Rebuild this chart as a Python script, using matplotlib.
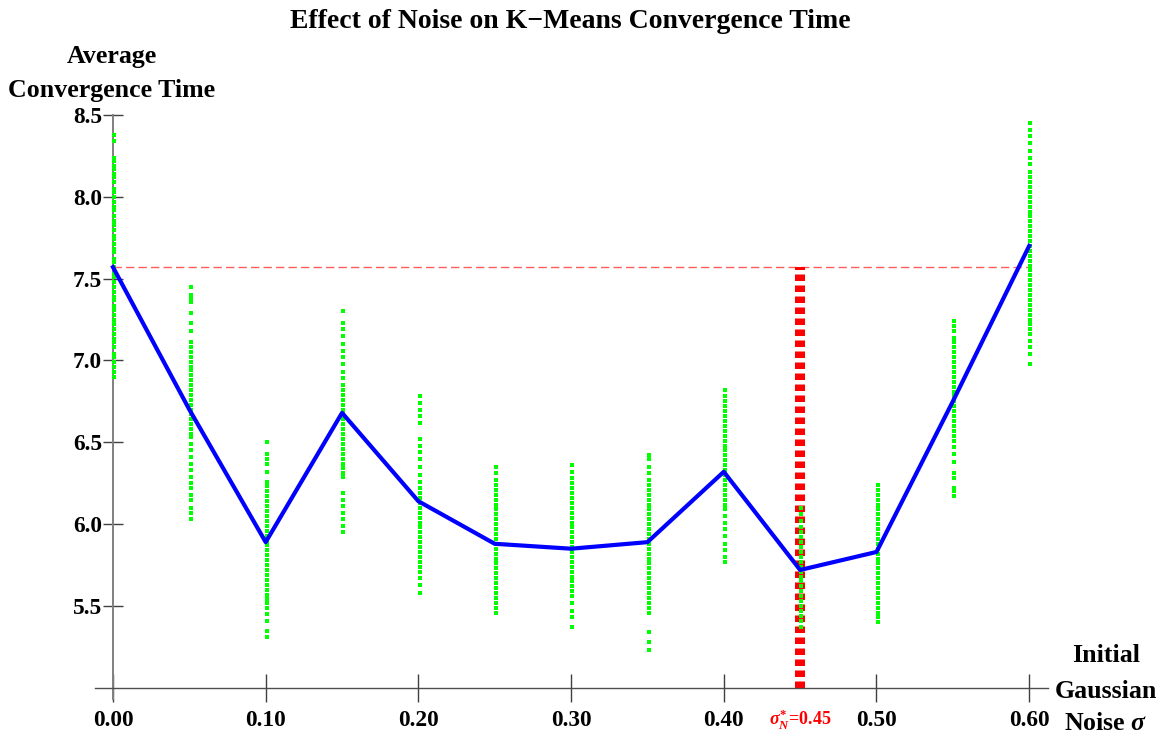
import matplotlib
matplotlib.use("Agg")
import matplotlib.pyplot as plt
import numpy as np

plt.rcParams["font.family"] = ["Liberation Serif", "DejaVu Serif"]
plt.rcParams["font.weight"] = "bold"
plt.rcParams["mathtext.fontset"] = "custom"
plt.rcParams["mathtext.rm"] = "Liberation Serif:bold"
plt.rcParams["mathtext.bf"] = "Liberation Serif:bold"
plt.rcParams["mathtext.it"] = "Liberation Serif:italic:bold"

# noise levels and mean convergence time (iterations) per level
noise = [0.00, 0.05, 0.10, 0.15, 0.20, 0.25, 0.30, 0.35, 0.40, 0.45, 0.50, 0.55, 0.60]
conv_time = [7.57, 6.70, 5.89, 6.68, 6.14, 5.88, 5.85, 5.89, 6.32, 5.72, 5.83, 6.75, 7.70]
best_sigma = 0.45

# per-run convergence times at each noise level
runs = {
    0.00: [8.38, 8.34, 8.24, 8.22, 8.19, 8.17, 8.14, 8.12, 8.09, 8.05, 8.03, 8.00, 7.97, 7.94,
           7.92, 7.88, 7.85, 7.83, 7.80, 7.76, 7.74, 7.71, 7.68, 7.66, 7.62, 7.60, 7.57, 7.53,
           7.51, 7.48, 7.45, 7.42, 7.39, 7.37, 7.33, 7.31, 7.28, 7.25, 7.22, 7.19, 7.16, 7.13,
           7.11, 7.08, 7.04, 7.02, 6.99, 6.96, 6.93, 6.90],
    0.05: [7.45, 7.40, 7.38, 7.36, 7.29, 7.23, 7.18, 7.11, 7.08, 7.05, 7.02, 6.99, 6.96, 6.94,
           6.91, 6.88, 6.85, 6.82, 6.79, 6.76, 6.73, 6.70, 6.67, 6.64, 6.61, 6.58, 6.55, 6.53,
           6.49, 6.45, 6.41, 6.37, 6.33, 6.29, 6.25, 6.22, 6.18, 6.15, 6.10, 6.07, 6.03],
    0.10: [6.50, 6.43, 6.40, 6.37, 6.32, 6.26, 6.23, 6.20, 6.17, 6.14, 6.11, 6.08, 6.05, 6.02,
           5.99, 5.96, 5.93, 5.90, 5.87, 5.84, 5.81, 5.78, 5.75, 5.72, 5.69, 5.66, 5.63, 5.60,
           5.57, 5.54, 5.52, 5.49, 5.45, 5.41, 5.35, 5.31],
    0.15: [7.30, 7.23, 7.19, 7.15, 7.10, 7.06, 7.02, 6.98, 6.93, 6.89, 6.85, 6.82, 6.79, 6.76,
           6.73, 6.70, 6.67, 6.64, 6.61, 6.58, 6.55, 6.52, 6.49, 6.46, 6.43, 6.40, 6.37, 6.34,
           6.31, 6.29, 6.19, 6.15, 6.11, 6.07, 6.03, 5.99, 5.95],
    0.20: [6.78, 6.74, 6.70, 6.66, 6.62, 6.52, 6.48, 6.44, 6.40, 6.35, 6.30, 6.26, 6.22, 6.19,
           6.16, 6.13, 6.10, 6.07, 6.04, 6.01, 5.98, 5.95, 5.92, 5.89, 5.86, 5.83, 5.80, 5.77,
           5.74, 5.71, 5.67, 5.63, 5.58],
    0.25: [6.35, 6.31, 6.27, 6.24, 6.21, 6.18, 6.15, 6.12, 6.09, 6.06, 6.03, 6.00, 5.97, 5.94,
           5.91, 5.88, 5.85, 5.82, 5.79, 5.76, 5.73, 5.70, 5.67, 5.64, 5.61, 5.58, 5.55, 5.52,
           5.49, 5.46],
    0.30: [6.36, 6.32, 6.28, 6.25, 6.22, 6.19, 6.16, 6.13, 6.10, 6.07, 6.04, 6.01, 5.98, 5.95,
           5.92, 5.89, 5.86, 5.83, 5.80, 5.77, 5.74, 5.71, 5.68, 5.65, 5.62, 5.59, 5.56, 5.52,
           5.47, 5.43, 5.37],
    0.35: [6.42, 6.40, 6.35, 6.31, 6.27, 6.24, 6.21, 6.18, 6.15, 6.12, 6.09, 6.06, 6.03, 6.00,
           5.97, 5.94, 5.91, 5.88, 5.85, 5.82, 5.79, 5.76, 5.73, 5.70, 5.67, 5.64, 5.61, 5.58,
           5.55, 5.52, 5.49, 5.46, 5.34, 5.28, 5.23],
    0.40: [6.82, 6.78, 6.75, 6.72, 6.69, 6.66, 6.63, 6.60, 6.57, 6.54, 6.51, 6.48, 6.45, 6.42,
           6.39, 6.36, 6.33, 6.30, 6.27, 6.24, 6.21, 6.18, 6.15, 6.12, 6.09, 6.05, 6.01, 5.97,
           5.93, 5.88, 5.84, 5.80, 5.77],
    0.45: [6.10, 6.06, 6.02, 5.98, 5.95, 5.92, 5.89, 5.86, 5.83, 5.80, 5.77, 5.74, 5.71, 5.68,
           5.65, 5.62, 5.59, 5.56, 5.53, 5.50, 5.47, 5.44, 5.41, 5.37],
    0.50: [6.24, 6.21, 6.18, 6.15, 6.12, 6.09, 6.06, 6.03, 6.00, 5.97, 5.94, 5.91, 5.88, 5.85,
           5.82, 5.79, 5.76, 5.73, 5.70, 5.67, 5.64, 5.61, 5.58, 5.55, 5.52, 5.49, 5.46, 5.43,
           5.40],
    0.55: [7.24, 7.21, 7.18, 7.14, 7.11, 7.08, 7.05, 7.02, 6.99, 6.96, 6.93, 6.90, 6.87, 6.84,
           6.81, 6.78, 6.75, 6.72, 6.69, 6.66, 6.63, 6.60, 6.57, 6.54, 6.51, 6.47, 6.43, 6.38,
           6.31, 6.28, 6.22, 6.20, 6.17],
    0.60: [8.45, 8.41, 8.37, 8.33, 8.28, 8.24, 8.20, 8.15, 8.12, 8.09, 8.06, 8.03, 8.00, 7.97,
           7.94, 7.91, 7.88, 7.85, 7.82, 7.79, 7.76, 7.73, 7.70, 7.67, 7.64, 7.61, 7.58, 7.55,
           7.52, 7.49, 7.46, 7.43, 7.40, 7.37, 7.34, 7.31, 7.28, 7.25, 7.22, 7.19, 7.16, 7.12,
           7.08, 7.04, 6.98],
}

xticks = [0.0, 0.1, 0.2, 0.3, 0.4, 0.5, 0.6]
xtick_labels = ["0.00", "0.10", "0.20", "0.30", "0.40", "0.50", "0.60"]
yticks = [5.5, 6.0, 6.5, 7.0, 7.5, 8.0, 8.5]

fig = plt.figure(figsize=(11.63, 7.35), dpi=100)
ax = fig.add_axes([0.0814, 0.0486, 0.8193, 0.795])
ax.set_xlim(-0.012, 0.612)
ax.set_ylim(4.93, 8.5)

# baseline (no noise) level and the best noise level
baseline = conv_time[0]
ax.plot([0, 0.60], [baseline, baseline], color="#ff5c5c", lw=1.0,
        dashes=(6, 3), zorder=2)
ax.plot([best_sigma, best_sigma], [5.0, baseline], color="#ff0000", lw=7.2,
        dashes=(0.65, 0.45), solid_capstyle="butt", dash_capstyle="butt", zorder=2)

for s, vals in runs.items():
    ax.scatter(np.full(len(vals), s + 0.0008), vals, s=5.5, marker="s",
               color="#00ff00", linewidths=0, zorder=3)

ax.plot(noise, conv_time, color="#0000ff", lw=3.0, zorder=4)

for side in ("top", "right"):
    ax.spines[side].set_visible(False)
ax.spines["left"].set_position(("data", 0.0))
ax.spines["bottom"].set_position(("data", 5.0))
ax.spines["left"].set_color("0.5")
ax.spines["bottom"].set_color("0.3")
ax.spines["left"].set_linewidth(1.4)
ax.spines["bottom"].set_linewidth(1.0)

ax.set_xticks(xticks)
ax.set_xticklabels(xtick_labels)
ax.set_yticks(yticks)
ax.tick_params(axis="x", direction="inout", length=20, width=1.0, color="0.25",
               labelsize=16.8, pad=6)
ax.tick_params(axis="y", direction="inout", length=13.7, width=1.0, color="0.25",
               labelsize=16.8, pad=1)
ax.text(best_sigma, -0.035, r"$\sigma^{*}_{N}$=0.45", transform=ax.get_xaxis_transform(),
        color="#ff0000", fontsize=13, ha="center", va="center", fontweight="bold")

fig.text(570 / 1163, 1 - 22 / 735, "Effect of Noise on K\u2212Means Convergence Time",
         ha="center", va="center", fontsize=20, fontweight="bold")
for label, ypix in (("Average", 56), ("Convergence Time", 91)):
    fig.text(112 / 1163, 1 - ypix / 735, label, ha="center", va="center",
             fontsize=18.6, fontweight="bold")
for label, ypix in (("Initial", 655), ("Gaussian", 691), (r"Noise $\sigma$", 723)):
    fig.text(1106 / 1163, 1 - ypix / 735, label, ha="center", va="center",
             fontsize=18.6, fontweight="bold")

fig.savefig("out.png", dpi=100)
